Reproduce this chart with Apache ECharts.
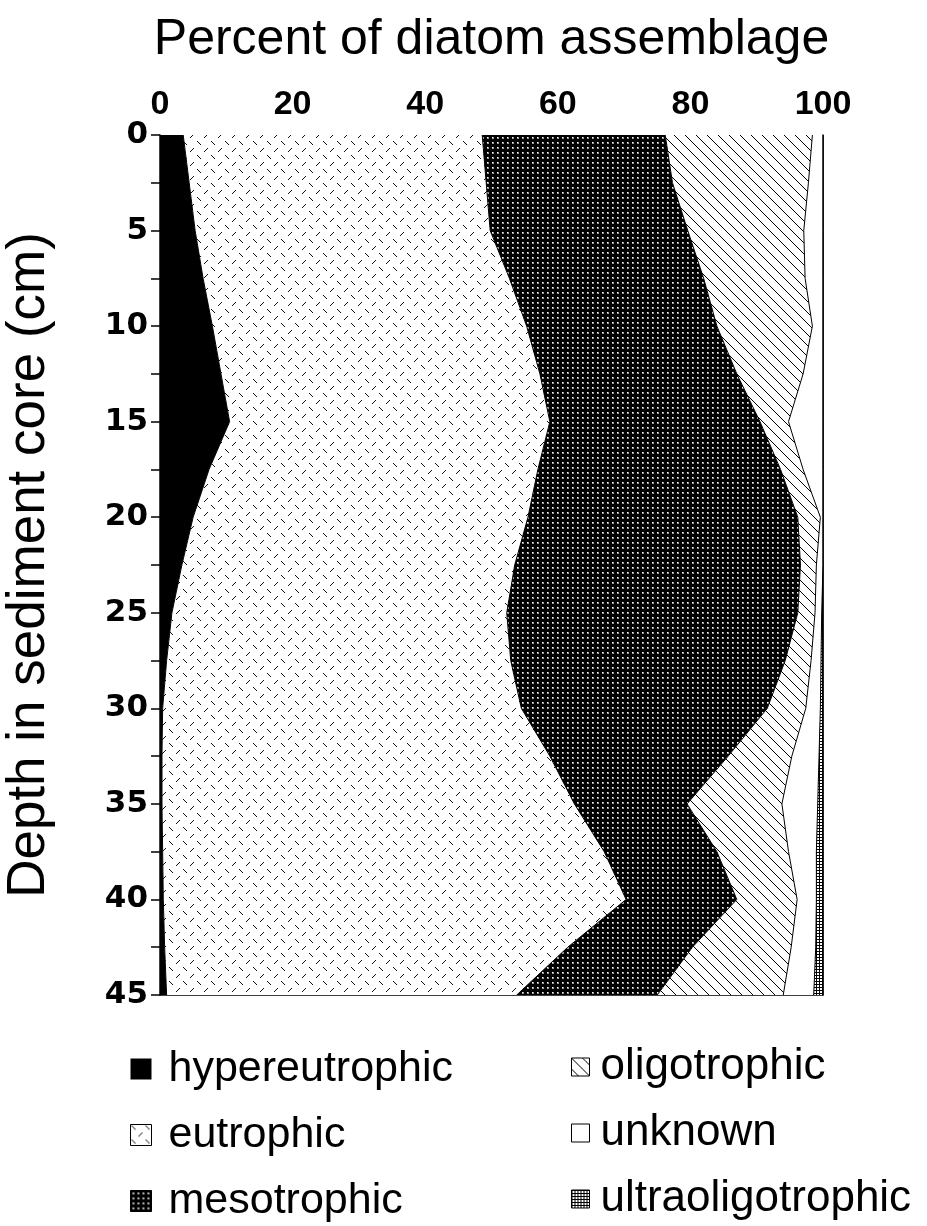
<!DOCTYPE html>
<html>
<head>
<meta charset="utf-8">
<script src="https://cdn.jsdelivr.net/npm/echarts@6/dist/echarts.min.js"></script>
<style>
html,body{margin:0;padding:0;background:#fff;}
#chart{width:927px;height:1226px;}
</style>
</head>
<body>
<div id="chart"></div>
<script>
// ---- Data (percent of diatom assemblage by depth, cm) ----
const depths = ['0','2.5','5','7.5','10','12.5','15','17.5','20','22.5','25','27.5','30','32.5','35','37.5','40','42.5','45'];
const xTickLabels = ['0','20','40','60','80','100'];
const yTickLabels = ['0','5','10','15','20','25','30','35','40','45'];
const seriesNames = ['hypereutrophic','eutrophic','mesotrophic','oligotrophic','unknown','ultraoligotrophic'];

const hypereutrophic   = [3.5, 4.4, 5.3, 6.5, 7.9, 9.2, 10.5, 7.4, 5.0, 3.3, 1.8, 1.0, 0.4, 0.3, 0.3, 0.4, 0.5, 0.7, 1.0];
const eutrophic        = [45.1, 44.8, 44.5, 46.2, 47.4, 48.1, 48.3, 49.6, 50.5, 50.2, 50.5, 51.9, 54.1, 58.5, 62.2, 66.6, 69.8, 60.8, 52.8];
const mesotrophic      = [27.6, 28.1, 29.8, 29.3, 28.7, 29.7, 31.7, 36.6, 40.7, 43.1, 43.9, 41.4, 37.1, 26.9, 17.0, 17.0, 16.7, 18.8, 21.2];
const oligotrophic     = [22.2, 20.5, 17.5, 15.3, 14.4, 10.0, 4.3, 3.4, 3.4, 2.4, 2.6, 3.9, 5.8, 9.6, 14.3, 10.8, 9.1, 14.9, 19.0];
const unknown          = [1.6, 2.2, 2.9, 2.7, 1.6, 3.0, 5.2, 3.0, 0.4, 1.0, 1.0, 1.5, 2.2, 4.1, 5.4, 4.2, 2.9, 3.7, 4.6];
const ultraoligotrophic= [0, 0, 0, 0, 0, 0, 0, 0, 0, 0, 0.2, 0.3, 0.4, 0.6, 0.8, 1.0, 1.0, 1.1, 1.4];

// ---- Fill patterns ----
function makeCanvas(w, h, draw) {
  const c = document.createElement('canvas');
  c.width = w; c.height = h;
  const g = c.getContext('2d');
  draw(g, w, h);
  return c;
}
const patSolid = '#000';
const patEu = makeCanvas(14, 14, (g, w, h) => {
  g.fillStyle = '#fff'; g.fillRect(0, 0, w, h);
  g.fillStyle = '#111';
  // short diagonal dashes, staggered rows of "\" and "/"
  [[1,1],[2,2],[3,3],[4,4]].forEach(p => g.fillRect(p[0], p[1], 1, 1));
  [[8,11],[9,10],[10,9],[11,8]].forEach(p => g.fillRect(p[0], p[1], 1, 1));
});
const patMeso = makeCanvas(5, 5, (g, w, h) => {
  g.fillStyle = '#000'; g.fillRect(0, 0, w, h);
  g.fillStyle = '#999'; g.fillRect(2, 2, 2, 2);
  g.fillStyle = '#fff'; g.fillRect(2, 2, 1, 1);
});
const patOligo = makeCanvas(11, 11, (g, w, h) => {
  g.fillStyle = '#fff'; g.fillRect(0, 0, w, h);
  g.fillStyle = '#000';
  for (let i = 0; i < w; i++) g.fillRect(i, i, 1, 1);
});
const patUltra = makeCanvas(3, 3, (g, w, h) => {
  g.fillStyle = '#fff'; g.fillRect(0, 0, w, h);
  g.fillStyle = '#000';
  g.fillRect(0, 0, w, 1); g.fillRect(0, 0, 1, h);
});
function pat(c) { return typeof c === 'string' ? c : { image: c, repetition: 'repeat' }; }
const fills = [patSolid, patEu, patMeso, patOligo, '#fff', patUltra];
const values = [hypereutrophic, eutrophic, mesotrophic, oligotrophic, unknown, ultraoligotrophic];

const series = seriesNames.map((n, i) => ({
  name: n,
  type: 'line',
  stack: 'total',
  xAxisIndex: 0,
  yAxisIndex: 0,
  data: values[i],
  showSymbol: false,
  symbol: 'none',
  lineStyle: { color: '#000', width: 1 },
  itemStyle: { color: pat(fills[i]), borderColor: '#000', borderWidth: 1 },
  areaStyle: { color: pat(fills[i]), opacity: 1 },
  emphasis: { disabled: true },
  animation: false
}));

const legendItem = (i) => ({
  name: seriesNames[i],
  icon: 'rect',
  itemStyle: { color: pat(fills[i]), borderColor: '#000', borderWidth: i === 0 ? 0 : 1 }
});

const chart = echarts.init(document.getElementById('chart'), null, { renderer: 'canvas' });
chart.setOption({
  animation: false,
  backgroundColor: '#fff',
  grid: { left: 160, right: 104, top: 135, bottom: 231, containLabel: false, outerBoundsMode: 'none' },
  xAxis: [{
    type: 'value', position: 'top', min: 0, max: 100, interval: 10,
    name: 'Percent of diatom assemblage', nameLocation: 'middle', nameGap: 70,
    nameTextStyle: { fontFamily: 'Liberation Sans', fontSize: 50, color: '#000' },
    axisLine: { lineStyle: { color: '#000', width: 1.5 } },
    axisTick: { length: 7, lineStyle: { color: '#000', width: 1.5 } },
    axisLabel: {
      margin: 13, color: '#000', fontFamily: 'Liberation Sans', fontWeight: 'bold', fontSize: 34,
      formatter: v => xTickLabels.indexOf(String(v)) >= 0 ? String(v) : ''
    },
    splitLine: { show: false }
  }, {
    type: 'value', position: 'bottom', min: 0, max: 100,
    axisLine: { show: true, onZero: false, lineStyle: { color: '#000', width: 1.5 } },
    axisTick: { show: false }, axisLabel: { show: false }, splitLine: { show: false }
  }],
  yAxis: [{
    type: 'category', data: depths, inverse: true, boundaryGap: false,
    name: 'Depth in sediment core (cm)', nameLocation: 'middle', nameGap: 104,
    nameTextStyle: { fontFamily: 'Liberation Sans', fontSize: 53, color: '#000' },
    axisLine: { lineStyle: { color: '#000', width: 1.5 } },
    axisTick: { interval: 0, length: 9, lineStyle: { color: '#000', width: 1.5 } },
    axisLabel: {
      interval: 1, margin: 12, color: '#000', fontFamily: 'DejaVu Sans', fontWeight: 'bold', fontSize: 31,
      formatter: v => yTickLabels.indexOf(v) >= 0 ? v : ''
    },
    splitLine: { show: false }
  }, {
    type: 'category', data: depths, inverse: true, boundaryGap: false, position: 'right',
    axisLine: { show: true, onZero: false, lineStyle: { color: '#000', width: 1.5 } },
    axisTick: { show: false }, axisLabel: { show: false }, splitLine: { show: false }
  }],
  legend: [{
    orient: 'vertical', left: 130, top: 1047, padding: 0,
    itemWidth: 21, itemHeight: 21, itemGap: 22,
    data: [0, 1, 2].map(legendItem),
    textStyle: { fontFamily: 'Liberation Sans', fontSize: 43, lineHeight: 44, color: '#000', padding: [0, 0, 0, 12] },
    selectedMode: false
  }, {
    orient: 'vertical', left: 571, top: 1045, padding: 0,
    itemWidth: 18, itemHeight: 18, itemGap: 22,
    data: [3, 4, 5].map(legendItem),
    textStyle: { fontFamily: 'Liberation Sans', fontSize: 44, lineHeight: 44, color: '#000', padding: [0, 0, 0, 6] },
    selectedMode: false
  }],
  series: series
});
</script>
</body>
</html>
